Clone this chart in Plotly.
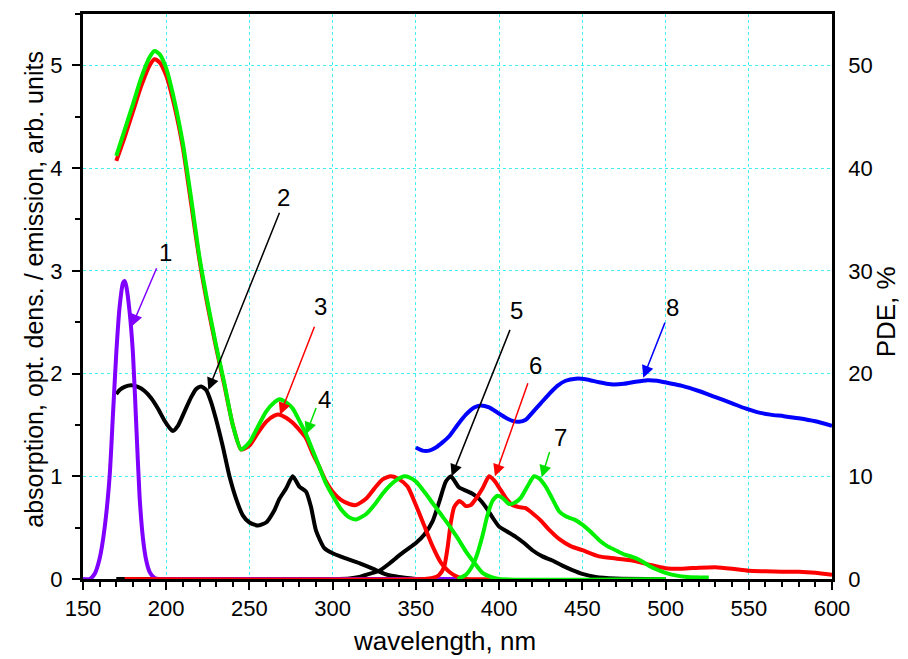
import plotly.graph_objects as go

# ---- data ----
x_purple = [150, 154, 157, 160, 163, 166, 168, 170, 172, 174, 175, 176, 178, 180, 182, 184, 186, 188, 190, 193, 196, 200, 250, 300, 375]
y_purple = [0, 0, 0.05, 0.2, 0.5, 1.0, 1.6, 2.2, 2.65, 2.88, 2.9, 2.85, 2.6, 2.2, 1.5, 0.8, 0.4, 0.18, 0.07, 0.01, 0, 0, 0, 0, 0]

x_black_abs = [170, 172, 175, 179, 183, 187, 191, 195, 199, 202, 204, 207, 211, 215, 218, 221, 224, 227, 230, 234, 238, 242, 246, 250, 255, 260, 265, 268, 272, 276, 280, 284, 287, 290, 295, 300, 308, 316, 326, 333, 340, 350]
y_black_abs = [1.80, 1.84, 1.87, 1.885, 1.87, 1.83, 1.76, 1.66, 1.54, 1.47, 1.44, 1.49, 1.63, 1.77, 1.85, 1.875, 1.84, 1.72, 1.55, 1.29, 1.0, 0.78, 0.62, 0.55, 0.52, 0.55, 0.67, 0.78, 0.88, 1.0, 0.9, 0.85, 0.7, 0.47, 0.3, 0.25, 0.2, 0.155, 0.087, 0.04, 0.02, 0]

x_black_em = [170, 300, 310, 316, 322, 328, 334, 340, 345, 350, 355, 360, 364, 368, 371, 373, 376, 380, 384, 388, 392, 396, 400, 405, 410, 415, 420, 426, 432, 438, 444, 450, 458, 470, 500]
y_black_em = [0, 0, 0.005, 0.02, 0.05, 0.08, 0.15, 0.23, 0.29, 0.35, 0.43, 0.56, 0.75, 0.95, 1.0, 0.96, 0.89, 0.86, 0.83, 0.78, 0.7, 0.6, 0.51, 0.46, 0.41, 0.35, 0.28, 0.22, 0.18, 0.13, 0.087, 0.05, 0.02, 0.005, 0]

x_red_abs = [170, 175, 180, 185, 190, 193, 196, 200, 205, 210, 215, 220, 225, 230, 235, 240, 245, 250, 255, 260, 265, 268, 272, 276, 280, 284, 288, 292, 296, 300, 305, 310, 314, 320, 325, 330, 335, 340, 345, 350, 355, 360, 365, 370, 375, 380, 400]
y_red_abs = [4.07, 4.3, 4.55, 4.8, 5.0, 5.06, 5.03, 4.9, 4.6, 4.2, 3.65, 3.1, 2.65, 2.25, 1.88, 1.5, 1.26, 1.3, 1.42, 1.53, 1.59, 1.6, 1.57, 1.52, 1.45, 1.37, 1.22, 1.09, 0.95, 0.85, 0.77, 0.73, 0.72, 0.78, 0.88, 0.97, 1.0, 0.97, 0.9, 0.72, 0.52, 0.32, 0.16, 0.07, 0.02, 0, 0]

x_green_abs = [170, 175, 180, 185, 190, 193, 196, 200, 205, 210, 215, 220, 225, 230, 235, 240, 245, 250, 255, 260, 265, 268, 272, 276, 280, 284, 288, 292, 296, 300, 305, 310, 314, 320, 325, 330, 335, 340, 343, 346, 350, 356, 360, 365, 370, 375, 380, 385, 390, 395, 400, 500]
y_green_abs = [4.12, 4.37, 4.62, 4.88, 5.08, 5.14, 5.11, 4.97, 4.65, 4.24, 3.7, 3.13, 2.68, 2.27, 1.9, 1.5, 1.26, 1.33, 1.48, 1.63, 1.72, 1.75, 1.72, 1.66, 1.54, 1.41, 1.25, 1.09, 0.93, 0.81, 0.68, 0.6, 0.58, 0.63, 0.72, 0.83, 0.92, 0.98, 1.0, 0.99, 0.95, 0.83, 0.74, 0.63, 0.52, 0.4, 0.27, 0.16, 0.06, 0.02, 0, 0]

x_red_em = [175, 355, 360, 364, 367, 369, 371, 373, 376, 378, 380, 383, 386, 390, 394, 397, 400, 404, 408, 412, 416, 420, 425, 430, 436, 443, 450, 460, 470, 480, 490, 500, 510, 520, 530, 540, 550, 560, 570, 580, 590, 600]
y_red_em = [0, 0, 0.01, 0.04, 0.12, 0.3, 0.55, 0.7, 0.76, 0.74, 0.71, 0.72, 0.78, 0.88, 1.0, 0.96, 0.89, 0.79, 0.72, 0.70, 0.69, 0.64, 0.57, 0.48, 0.39, 0.32, 0.28, 0.22, 0.2, 0.18, 0.14, 0.105, 0.1, 0.11, 0.115, 0.1, 0.08, 0.075, 0.07, 0.07, 0.06, 0.04]

x_green_em = [375, 380, 384, 387, 390, 393, 396, 399, 402, 406, 409, 413, 417, 421, 424, 428, 432, 436, 440, 445, 450, 455, 460, 465, 470, 475, 480, 485, 490, 495, 500, 506, 513, 526]
y_green_em = [0, 0.04, 0.13, 0.25, 0.42, 0.62, 0.76, 0.81, 0.79, 0.73, 0.74, 0.79, 0.9, 1.0, 0.98, 0.9, 0.78, 0.66, 0.61, 0.58, 0.53, 0.46, 0.38, 0.32, 0.28, 0.24, 0.215, 0.18, 0.13, 0.09, 0.06, 0.035, 0.02, 0.015]

x_pde = [350, 354, 358, 362, 366, 370, 375, 380, 385, 389, 394, 399, 404, 408, 412, 416, 420, 425, 430, 435, 440, 446, 452, 460, 467, 475, 482, 489, 495, 501, 510, 520, 530, 540, 548, 555, 563, 571, 580, 590, 600]
y_pde = [12.8, 12.5, 12.5, 12.8, 13.3, 13.9, 15.0, 16.0, 16.7, 16.9, 16.7, 16.2, 15.7, 15.4, 15.3, 15.5, 16.2, 17.1, 18.0, 18.8, 19.3, 19.5, 19.45, 19.15, 18.95, 19.0, 19.2, 19.35, 19.3, 19.1, 18.8, 18.3, 17.7, 17.1, 16.6, 16.25, 16.0, 15.85, 15.65, 15.35, 14.9]

labels = ["1", "2", "3", "4", "5", "6", "7", "8"]
label_x = [199.3, 270.3, 292.8, 294.8, 410.6, 421.6, 436.6, 504.2]
label_y = [3.18, 3.71, 2.65, 1.75, 2.61, 2.08, 1.38, 2.64]
tail_x = [194.6, 268.4, 289.4, 290.4, 406.9, 417.6, 430.6, 500.0]
tail_y = [3.04, 3.58, 2.47, 1.68, 2.44, 1.92, 1.25, 2.51]
tip_x = [179.3, 225.3, 268.4, 284.0, 371.5, 397.5, 425.6, 486.6]
tip_y = [2.46, 1.84, 1.60, 1.41, 1.0, 1.0, 0.99, 1.96]
label_colors = ["#7F00FF", "black", "#FF0000", "#00E000", "black", "#FF0000", "#00E000", "#0000FF"]

x_title = "wavelength, nm"
y_title = "absorption, opt. dens. / emission, arb. units"
y2_title = "PDE, %"

PURPLE = "#7F00FF"
BLACK = "#000000"
RED = "#FF0000"
GREEN = "#00F000"
BLUE = "#0000FF"

FONT = "Liberation Sans Narrow, Arial Narrow, Liberation Sans, Arial, sans-serif"

fig = go.Figure()

def add(x, y, color, axis="y"):
    fig.add_trace(go.Scatter(x=x, y=y, mode="lines", yaxis=axis,
                             line=dict(color=color, width=4, shape="spline", smoothing=0.6),
                             showlegend=False, hoverinfo="skip"))

add(x_black_abs, y_black_abs, BLACK)
add(x_black_em, y_black_em, BLACK)
add(x_purple, y_purple, PURPLE)
add(x_red_abs, y_red_abs, RED)
add(x_red_em, y_red_em, RED)
add(x_green_abs, y_green_abs, GREEN)
add(x_green_em, y_green_em, GREEN)
add(x_pde, y_pde, BLUE, "y2")

for i in range(len(labels)):
    c = label_colors[i]
    fig.add_annotation(x=tip_x[i], y=tip_y[i], ax=tail_x[i], ay=tail_y[i],
                       xref="x", yref="y", axref="x", ayref="y",
                       text="", showarrow=True, arrowhead=2, arrowsize=1.6,
                       arrowwidth=1.5, arrowcolor=c)
    fig.add_annotation(x=label_x[i], y=label_y[i], xref="x", yref="y",
                       text=labels[i], showarrow=False,
                       font=dict(family=FONT, size=24, color="black"))

# axis titles placed as paper annotations
fig.add_annotation(x=0.483, y=-0.109, xref="paper", yref="paper", text=x_title,
                   showarrow=False, xanchor="center", yanchor="middle",
                   font=dict(family=FONT, size=26, color="black"))
fig.add_annotation(x=-0.0654, y=0.512, xref="paper", yref="paper", text=y_title,
                   showarrow=False, xanchor="center", yanchor="middle", textangle=-90,
                   font=dict(family=FONT, size=25, color="black"))
fig.add_annotation(x=1.072, y=0.4736, xref="paper", yref="paper", text=y2_title,
                   showarrow=False, xanchor="center", yanchor="middle", textangle=-90,
                   font=dict(family=FONT, size=26, color="black"))

fig.update_layout(
    width=908, height=659,
    margin=dict(l=83, r=76, t=11, b=80),
    paper_bgcolor="white", plot_bgcolor="white",
    font=dict(family=FONT, size=22, color="black"),
    xaxis=dict(range=[150, 600], dtick=50, tick0=150,
               showline=True, linecolor="black", linewidth=3, mirror=True,
               ticks="outside", ticklen=8, tickwidth=2, tickcolor="black",
               minor=dict(dtick=10, ticks="outside", ticklen=5, tickwidth=1.5, tickcolor="black", showgrid=False),
               showgrid=True, gridcolor="#40F0F0", griddash="dot", gridwidth=1,
               zeroline=False, tickfont=dict(size=22)),
    yaxis=dict(range=[0, 5.5], dtick=1, tick0=0,
               showline=True, linecolor="black", linewidth=3,
               ticks="outside", ticklen=8, tickwidth=2, tickcolor="black",
               minor=dict(dtick=0.5, ticks="outside", ticklen=5, tickwidth=1.5, tickcolor="black", showgrid=False),
               showgrid=True, gridcolor="#40F0F0", griddash="dot", gridwidth=1,
               zeroline=False, tickfont=dict(size=22), ticklabelstandoff=5),
    yaxis2=dict(range=[0, 55], dtick=10, tick0=0, overlaying="y", side="right",
                showline=True, linecolor="black", linewidth=2.5,
                ticks="", showgrid=False, zeroline=False,
                tickfont=dict(size=22), ticklabelstandoff=9),
)

fig.write_html("out.html")
